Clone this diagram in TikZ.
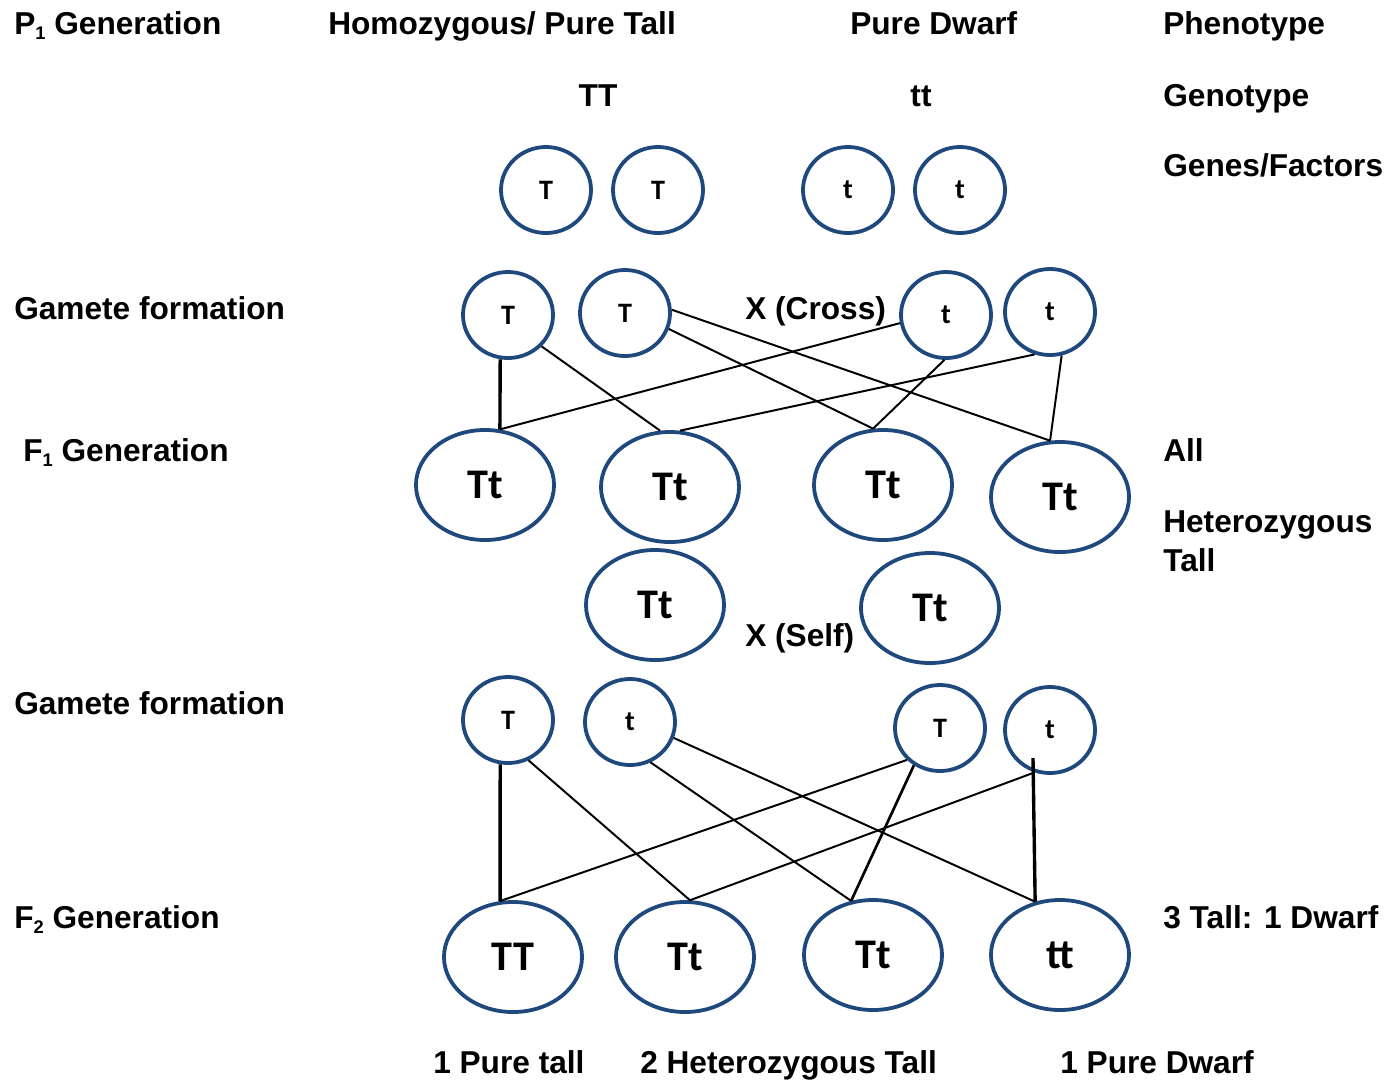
\documentclass[tikz,border=0pt]{standalone}
\usepackage{fontspec}
\setmainfont{Liberation Sans}
\newfontfamily\circfont{Carlito}
\usetikzlibrary{shapes.geometric,calc}
\definecolor{navy}{RGB}{31,73,125}
\newcommand\mysub[1]{\raisebox{-0.35ex}{\fontsize{13pt}{13pt}\selectfont #1}}
\begin{document}
\begin{tikzpicture}[x=0.025cm,y=-0.025cm,
  lbl/.style={font=\fontsize{22.5pt}{26pt}\selectfont\bfseries, inner sep=0pt, anchor=base west},
  clbl/.style={font=\fontsize{22.5pt}{26pt}\selectfont\bfseries, inner sep=0pt, anchor=base},
  gsmall/.style={ellipse, draw=navy, line width=2.7pt, minimum width=2.25cm, minimum height=2.15cm, inner sep=0pt, font=\circfont\fontsize{20pt}{20pt}\selectfont\bfseries},
  gbig/.style={ellipse, draw=navy, line width=2.7pt, minimum width=3.45cm, minimum height=2.75cm, inner sep=0pt, font=\circfont\fontsize{30pt}{30pt}\selectfont\bfseries},
  conn/.style={line width=1.4pt, black},
  boldconn/.style={line width=2.4pt, black}]
\useasboundingbox[fill=white] (0,0) rectangle (1387,1081);

% ---- labels ----
\node[lbl] (p1) at (14,34) {P\mysub{1} Generation};
\node[lbl] (homo) at (328,34) {Homozygous/ Pure Tall};
\node[lbl] (pdw) at (850,34) {Pure Dwarf};
\node[lbl] (phen) at (1163,34) {Phenotype};
\node[clbl] (TT) at (598,106) {TT};
\node[clbl] (tt) at (921,106) {tt};
\node[lbl] (geno) at (1163,106) {Genotype};
\node[lbl] (genes) at (1163,176) {Genes/Factors};
\node[lbl] (gam1) at (14,319) {Gamete formation};
\node[lbl] (cross) at (745,319) {X (Cross)};
\node[lbl] (f1gen) at (23,461) {F\mysub{1} Generation};
\node[lbl] (all) at (1163,461) {All};
\node[lbl] (het) at (1163,532) {Heterozygous};
\node[lbl] (tall) at (1163,571) {Tall};
\node[lbl] (self) at (745,646) {X (Self)};
\node[lbl] (gam2) at (14,714) {Gamete formation};
\node[lbl] (f2gen) at (14,928) {F\mysub{2} Generation};
\node[lbl] (ratio) at (1163,928) {3 Tall: 1 Dwarf};
\node[lbl] (r1) at (433,1073) {1 Pure tall};
\node[lbl] (r2) at (640,1073) {2 Heterozygous Tall};
\node[lbl] (r3) at (1060,1073) {1 Pure Dwarf};

% ---- genes ----
\node[gsmall] (e1) at (546,190) {T};
\node[gsmall] (e2) at (658,190) {T};
\node[gsmall] (e3) at (848,190) {t};
\node[gsmall] (e4) at (960,190) {t};

% ---- gametes 1 ----
\node[gsmall] (g1) at (508,315) {T};
\node[gsmall] (g2) at (625,313) {T};
\node[gsmall] (g3) at (946,315) {t};
\node[gsmall] (g4) at (1050,312) {t};

% ---- F1 ----
\node[gbig] (f1) at (485,485) {Tt};
\node[gbig] (f2) at (670,487) {Tt};
\node[gbig] (f3) at (883,485) {Tt};
\node[gbig] (f4) at (1060,497) {Tt};

% ---- self ----
\node[gbig] (s1) at (655,605) {Tt};
\node[gbig] (s2) at (930,608) {Tt};

% ---- gametes 2 ----
\node[gsmall] (h1) at (508,720) {T};
\node[gsmall] (h2) at (630,722) {t};
\node[gsmall] (h3) at (940,728) {T};
\node[gsmall] (h4) at (1050,730) {t};

% ---- F2 ----
\node[gbig] (k1) at (513,957) {TT};
\node[gbig] (k2) at (685,957) {Tt};
\node[gbig] (k3) at (873,955) {Tt};
\node[gbig] (k4) at (1060,955) {tt};

% ---- connectors F1 ----
\draw[boldconn] (g1.-100) -- (f1.75);
\draw[conn] (g1.-43) -- (f2.100);
\draw[conn] (g2.4) -- (f4.100);
\draw[conn] (g2.-20) -- (f3.100);
\draw[conn] (g3.-92) -- (f3.100);
\draw[conn] (g3.190) -- (f1.75);
\draw[conn] (g4.-110) -- (f2.80);
\draw[conn] (g4.-75) -- (f4.100);

% ---- connectors F2 ----
\draw[boldconn] (h1.-100) -- (k1.103);
\draw[conn] (h1.-63) -- (k2.85);
\draw[conn] (h2.-63) -- (k3.112);
\draw[conn] (h2.-20) -- (k4.115);
\draw[conn] (h3.-136) -- (k1.103);
\draw[conn, line width=1.9pt] (h3.-125) -- (k3.112);
\draw[conn] (h4.-110) -- (k2.85);
\coordinate (h4in) at ($(h4.center)+(-17,28)$);
\draw[boldconn] (h4in) -- (k4.115);
\end{tikzpicture}
\end{document}
